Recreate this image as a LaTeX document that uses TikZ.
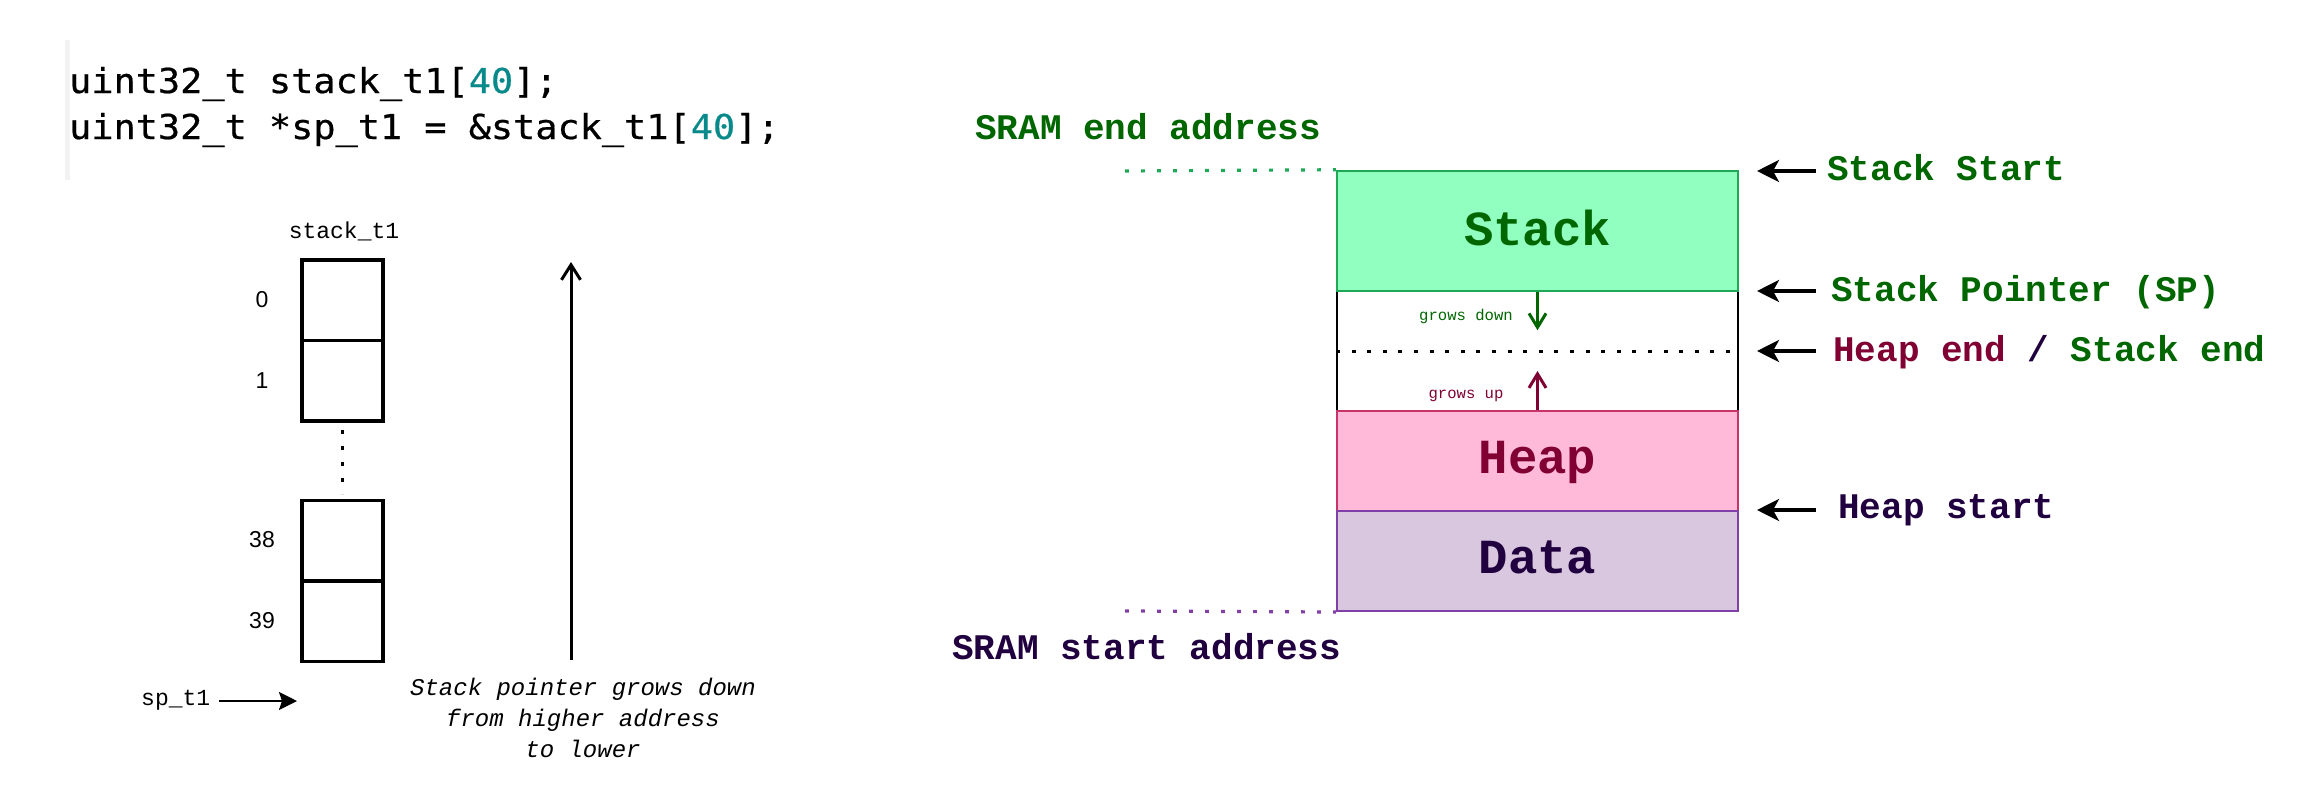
\documentclass[tikz,border=0pt]{standalone}
\usepackage{fontspec}
\usetikzlibrary{arrows.meta}
\newfontfamily\codefont[FakeStretch=1.075,FakeBold=0.6]{DejaVu Sans Mono}
\newfontfamily\courfont{Liberation Mono}
\newfontfamily\arialfont{Liberation Sans}
\definecolor{dkgreen}{HTML}{006600}
\definecolor{teal40}{HTML}{098A8A}
\definecolor{stackfill}{HTML}{90FFC0}
\definecolor{stackline}{HTML}{1FA855}
\definecolor{heapfill}{HTML}{FFB9D9}
\definecolor{heapline}{HTML}{C8336A}
\definecolor{heaptext}{HTML}{800033}
\definecolor{datafill}{HTML}{D9C7E0}
\definecolor{dataline}{HTML}{8040A8}
\definecolor{datatext}{HTML}{20003F}
\definecolor{codebar}{HTML}{F2F2F2}
\begin{document}
\begin{tikzpicture}[x=1pt,y=-1pt,
  code/.style={anchor=base west, inner sep=0pt, font=\codefont\fontsize{34.3}{40}\selectfont},
  cell/.style={draw, line width=3.5pt, minimum width=81pt, minimum height=80.5pt, inner sep=0pt},
  idx/.style={inner sep=0pt, font=\arialfont\fontsize{23}{26}\selectfont},
  mono/.style={inner sep=0pt, font=\courfont\fontsize{23}{26}\selectfont},
  note/.style={inner sep=0pt, anchor=base, font=\courfont\itshape\fontsize{24}{28}\selectfont},
  lbl/.style={inner sep=0pt, anchor=base west, font=\courfont\bfseries\fontsize{36}{40}\selectfont},
  seg/.style={minimum width=401pt, inner sep=0pt, font=\courfont\bfseries\fontsize{49}{52}\selectfont, text depth=7pt},
  small/.style={inner sep=0pt, font=\courfont\fontsize{15.6}{18}\selectfont},
  ptr/.style={line width=3.5pt, -{Stealth[length=22pt,width=22pt,inset=6pt]}},
  barb/.style={line width=3pt, -{Straight Barb[length=14pt,width=17pt]}},
  dots/.style={line width=3.2pt, dash pattern=on 3.8pt off 12.2pt},
]
\useasboundingbox (0,0) rectangle (2314,800);
% code block
\fill[codebar] (65,40) rectangle (70,180);
\node[code] (c1) at (69,93) {uint32\_t stack\_t1[{\color{teal40}40}];};
\node[code] (c2) at (69,139) {uint32\_t *sp\_t1 = \&stack\_t1[{\color{teal40}40}];};
% array
\node[mono, anchor=base] (arrname) at (344,238) {stack\_t1};
\node[cell] (b0) at (342.5,300.25) {};
\node[cell] (b1) at (342.5,380.75) {};
\node[cell] (b38) at (342.5,540.75) {};
\node[cell] (b39) at (342.5,621.25) {};
\node[idx] (i0) at (262,300) {0};
\node[idx] (i1) at (262,381) {1};
\node[idx] (i38) at (262,540) {38};
\node[idx] (i39) at (262,621) {39};
\draw[dots] ([yshift=-7pt]b1.south) -- ([yshift=5pt]b38.north);
\coordinate (gtop) at (571,262);
\coordinate (gbot) at (571,660);
\draw[line width=3pt, -{Straight Barb[length=15pt,width=19pt]}] (gbot) -- (gtop);
\node[mono, anchor=base west] (spt) at (141,705) {sp\_t1};
\coordinate (sptip) at (297,701);
\coordinate (sptail) at (219,701);
\draw[line width=2.2pt, -{Stealth[length=18pt,width=18pt,inset=3pt]}] (sptail) -- (sptip);
\node[note] (n1) at (583,695) {Stack pointer grows down};
\node[note] (n2) at (583,726) {from higher address};
\node[note] (n3) at (583,757) {to lower};
% memory map
\node[lbl, text=dkgreen] (sramend) at (975,139) {SRAM end address};
\node[draw=black, line width=2pt, minimum width=401pt, minimum height=120pt, inner sep=0pt] (mid) at (1537.5,351) {};
\node[seg, fill=stackfill, draw=stackline, line width=2.5pt, minimum height=120pt, text=dkgreen] (stack) at (1537.5,231) {Stack};
\node[seg, fill=heapfill, draw=heapline, line width=2pt, minimum height=100pt, text=heaptext] (heap) at (1537.5,461) {Heap};
\node[seg, fill=datafill, draw=dataline, line width=2pt, minimum height=100pt, text=datatext] (data) at (1537.5,561) {Data};
\draw[line width=3pt, dash pattern=on 4pt off 11.6pt] (mid.west) -- ([xshift=-8pt]mid.east);
\coordinate (ge) at (1125,171);
\coordinate (pe) at (1125,611);
\draw[dots, stackline] (ge) -- (stack.north west);
\draw[dots, dataline] (pe) -- (data.south west);
\node[small, text=dkgreen] (gd) at (1466,316) {grows down};
\draw[barb, dkgreen] (stack.south) -- ([yshift=-38pt]stack.south);
\node[small, text=heaptext] (gu) at (1466,396) {grows up};
\draw[barb, heaptext] (heap.north) -- ([yshift=39pt]heap.north);
\node[lbl, text=datatext] (sramstart) at (952,659) {SRAM start address};
% right labels
\node[lbl, text=dkgreen] (lss) at (1827,180) {Stack Start};
\node[lbl, text=dkgreen] (lsp) at (1831,301) {Stack Pointer (SP)};
\node[lbl] (lhe) at (1833,361) {\textcolor{heaptext}{Heap end} \textcolor{datatext}{/} \textcolor{dkgreen}{Stack end}};
\node[lbl, text=datatext] (lhs) at (1838,518) {Heap start};
\coordinate (a1f) at (1816,171); \coordinate (a1t) at (1757,171);
\coordinate (a2f) at (1816,291); \coordinate (a2t) at (1757,291);
\coordinate (a3f) at (1816,351); \coordinate (a3t) at (1757,351);
\coordinate (a4f) at (1816,510); \coordinate (a4t) at (1757,510);
\draw[ptr] (a1f) -- (a1t);
\draw[ptr] (a2f) -- (a2t);
\draw[ptr] (a3f) -- (a3t);
\draw[ptr] (a4f) -- (a4t);
\end{tikzpicture}
\end{document}
